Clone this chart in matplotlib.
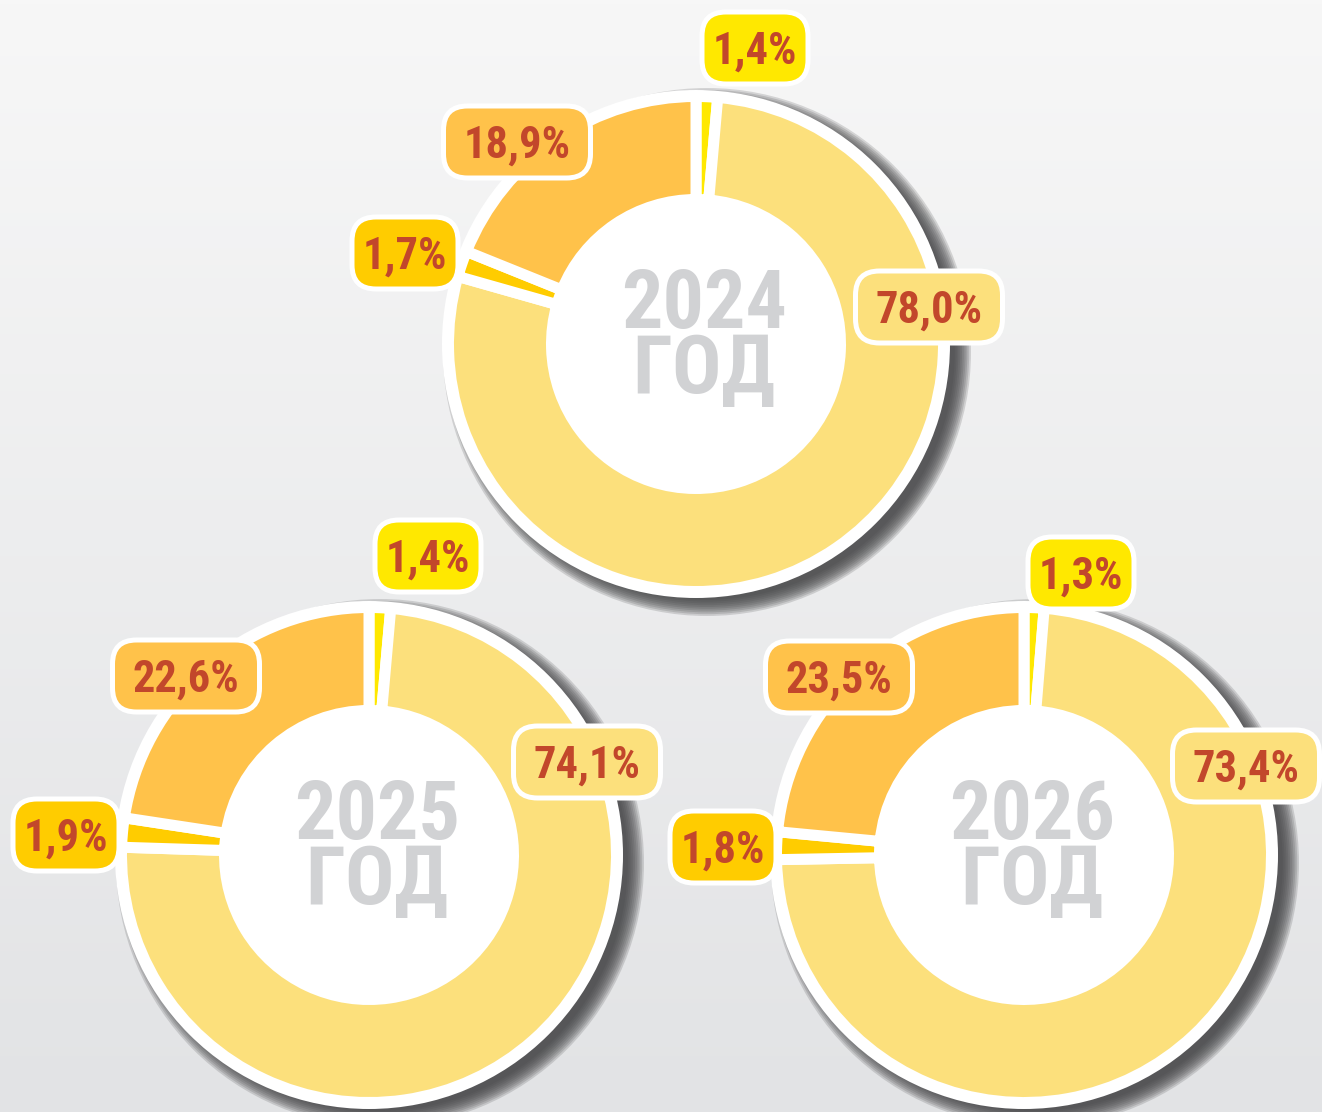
import numpy as np
import matplotlib
matplotlib.use('Agg')
import matplotlib.pyplot as plt
from matplotlib.patches import Circle, FancyBboxPatch
from matplotlib import font_manager as fm

# ---------------- data ----------------
years = ['2024', '2025', '2026']
year_word = 'ГОД'
categories = ['cat_a', 'cat_b', 'cat_c', 'cat_d']
shares_2024 = [1.4, 78.0, 1.7, 18.9]
shares_2025 = [1.4, 74.1, 1.9, 22.6]
shares_2026 = [1.3, 73.4, 1.8, 23.5]
shares = {'2024': shares_2024, '2025': shares_2025, '2026': shares_2026}

# ---------------- style ----------------
slice_colors = ['#FFE800', '#FCE07C', '#FFCC00', '#FFC24A']
label_text_color = '#C2472B'
year_color = '#D1D2D4'
shadow_color = '#454547'

W, H = 1322, 1112

# layout (pixel coords, y down)
centers = {'2024': (696, 344), '2025': (369, 855), '2026': (1024, 855)}
label_pos = {
    '2024': [(755, 48), (929, 307), (405, 253), (517, 142)],
    '2025': [(428, 556), (587, 762), (66, 835), (186, 676)],
    '2026': [(1081, 573), (1246, 766), (723, 847), (839, 677)],
}
R_WHITE = 254
R_VIS_OUT = 242
R_VIS_IN = 150
EDGE_PX = 11

# ---------------- font choice ----------------
entries = fm.fontManager.ttflist
names = {f.name for f in entries}
if 'Liberation Sans Narrow' in names:
    FAM, STRETCH, FAC = 'Liberation Sans Narrow', 'normal', 1.0
elif 'Roboto Condensed' in names:
    FAM, STRETCH, FAC = 'Roboto Condensed', 'normal', 1.0
elif any(f.name == 'DejaVu Sans' and str(f.stretch) in ('condensed', 'semi-condensed') for f in entries):
    FAM, STRETCH, FAC = 'DejaVu Sans', 'condensed', 0.8
else:
    FAM, STRETCH, FAC = 'DejaVu Sans', 'normal', 0.72

px2pt = 72 / 100.0


def fmt(v):
    return f'{v:.1f}'.replace('.', ',') + '%'


fig = plt.figure(figsize=(W / 100, H / 100), dpi=100)
ax = fig.add_axes([0, 0, 1, 1])

# background gradient
grad = np.linspace(0, 1, 256)[:, None]
top = np.array([0xF7, 0xF7, 0xF7]) / 255
bot = np.array([0xE2, 0xE3, 0xE5]) / 255
img = top[None, None, :] * (1 - grad[:, :, None]) + bot[None, None, :] * grad[:, :, None]
ax.imshow(img, extent=[0, W, 0, H], aspect='auto', zorder=0, origin='upper')

edge_lw = EDGE_PX * px2pt
for yr in years:
    cx, cy = centers[yr]
    Y = H - cy
    # blurred shadow
    n = 10
    for i in range(n):
        r = R_WHITE + 10 - i * 1.8
        ax.add_patch(Circle((cx + 11, Y - 8), r, fc=shadow_color, ec='none',
                            alpha=0.19, zorder=1))
    # white disc
    ax.add_patch(Circle((cx, Y), R_WHITE, fc='white', ec='none', zorder=2))
    # donut
    r_out = R_VIS_OUT + EDGE_PX / 2
    r_in = R_VIS_IN - EDGE_PX / 2
    ax.pie(shares[yr], colors=slice_colors, startangle=90, counterclock=False,
           radius=r_out, center=(cx, Y), frame=True,
           wedgeprops=dict(width=r_out - r_in, edgecolor='white',
                           linewidth=edge_lw, zorder=3))
    # year text (two lines in one text; baseline = last line)
    ax.text(cx + 8, Y - 49, yr + '\n' + year_word, ha='center', va='baseline',
            multialignment='center', linespacing=0.79,
            fontsize=59 * FAC, fontweight='bold', family=FAM, stretch=STRETCH,
            color=year_color, zorder=4)
    # labels
    for v, col, (lx, ly) in zip(shares[yr], slice_colors, label_pos[yr]):
        s = fmt(v)
        bw = 106 if len(s) <= 4 else 147
        bh = 72
        LY = H - ly
        ax.add_patch(FancyBboxPatch((lx - bw / 2, LY - bh / 2), bw, bh,
                                    boxstyle='round,pad=0,rounding_size=24',
                                    fc=col, ec='white', lw=5 * px2pt, zorder=5))
        ax.text(lx, LY - 16, s, ha='center', va='baseline',
                fontsize=32 * FAC, fontweight='bold', family=FAM, stretch=STRETCH,
                color=label_text_color, zorder=6)

ax.set_xlim(0, W)
ax.set_ylim(0, H)
ax.set_aspect('equal', adjustable='box')
ax.axis('off')
fig.savefig('out.png', dpi=100)
